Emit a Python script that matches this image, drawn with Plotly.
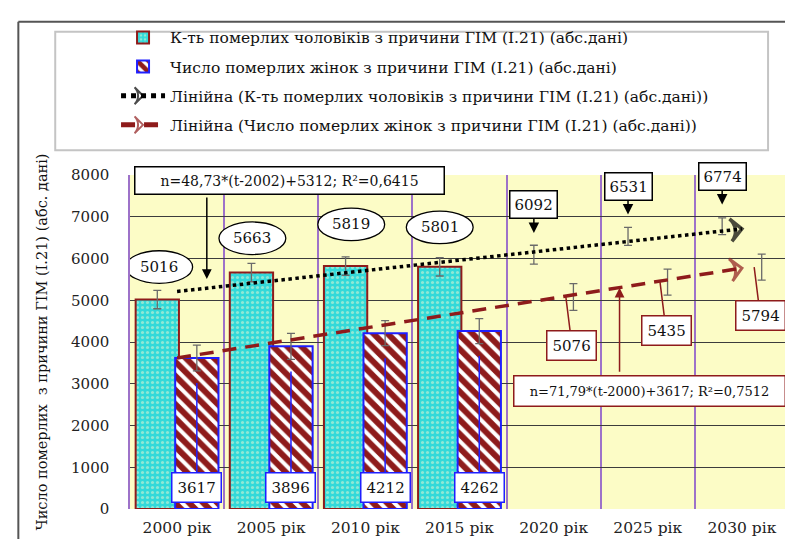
import plotly.graph_objects as go

# ---------------- data ----------------
years = ["2000 рік", "2005 рік", "2010 рік", "2015 рік", "2020 рік", "2025 рік", "2030 рік"]
men_obs = [5016, 5663, 5819, 5801]          # К-ть померлих чоловіків (2000-2015)
women_obs = [3617, 3896, 4212, 4262]        # Число померлих жінок (2000-2015)
men_fc = [6092, 6531, 6774]                 # прогноз чоловіки (2020-2030)
women_fc = [5076, 5435, 5794]               # прогноз жінки (2020-2030)
men_err = [220, 220, 220, 220, 225, 215, 200]
women_err = [310, 310, 300, 300, 320, 310, 310]
men_trend = [5210, 5460, 5710, 5960, 6210, 6460, 6710]
women_trend = [3617, 3975, 4335, 4690, 5050, 5410, 5770]
men_eq = "n=48,73*(t-2002)+5312; R²=0,6415"
women_eq = "n=71,79*(t-2000)+3617; R²=0,7512"

legend_names = [
    "К-ть померлих чоловіків з причини ГІМ (І.21) (абс.дані)",
    "Число померлих жінок з причини ГІМ (І.21) (абс.дані)",
    "Лінійна (К-ть померлих чоловіків з причини ГІМ (І.21) (абс.дані))",
    "Лінійна (Число померлих жінок з причини ГІМ (І.21) (абс.дані))",
]
y_title = "Число померлих  з причини ГІМ (І.21) (абс. дані)"
y_ticks = [0, 1000, 2000, 3000, 4000, 5000, 6000, 7000, 8000]

# ---------------- style ----------------
W, H = 793, 539
ML, MR, MT, MB = 122, 10, 167, 34
FONT = "DejaVu Serif, Liberation Serif, serif"
DARKRED = "#8e1b1b"
BLUE = "#1f1fff"
PURPLE = "#9d72c9"
CYAN = "#33d9d9"
NUM_SIZE = 15

n = len(years)
idx = list(range(n))
idx_obs = idx[:len(men_obs)]
idx_fc = idx[len(men_obs):]
men_all = men_obs + men_fc
women_all = women_obs + women_fc
MEN_SHIFT, WOMEN_SHIFT = -0.21, 0.21

pw = W - ML - MR
ph = H - MT - MB


def px(xp):
    return (xp - ML) / pw


def py(yp):
    return (H - MB - yp) / ph


fig = go.Figure()

fig.add_trace(go.Bar(
    x=idx_obs, y=men_obs, name=legend_names[0], width=0.46, offset=-0.44,
    legendgroup="a",
    marker=dict(color=CYAN, opacity=1, line=dict(color=DARKRED, width=2),
                pattern=dict(shape=".", fgcolor="#eef6d0", bgcolor=CYAN, size=5, solidity=0.3)),
))
fig.add_trace(go.Bar(
    x=idx_obs, y=women_obs, name=legend_names[1], width=0.46, offset=-0.02,
    legendgroup="b",
    marker=dict(color="white", opacity=1, line=dict(color=BLUE, width=2),
                pattern=dict(shape="\\", fgcolor=DARKRED, fgopacity=1, bgcolor="white",
                             size=10, solidity=0.6)),
))

# error bars
fig.add_trace(go.Scatter(
    x=[i + MEN_SHIFT for i in idx], y=men_all, mode="markers", showlegend=False,
    marker=dict(size=1, opacity=0), hoverinfo="skip",
    error_y=dict(type="data", array=men_err, color="#6a6a6a", thickness=1.3, width=4),
))
fig.add_trace(go.Scatter(
    x=[i + WOMEN_SHIFT for i in idx], y=women_all, mode="markers", showlegend=False,
    marker=dict(size=1, opacity=0), hoverinfo="skip",
    error_y=dict(type="data", array=women_err, color="#6a6a6a", thickness=1.3, width=4),
))

# trend lines
fig.add_trace(go.Scatter(
    x=idx, y=men_trend, mode="lines+markers", name=legend_names[2], legendgroup="c",
    line=dict(color="black", width=3.5, dash="dot"),
    marker=dict(symbol="arrow-wide-open", size=[0] * (n - 1) + [16], angleref="previous",
                color="black", line=dict(color="black", width=3.5)),
))
fig.add_trace(go.Scatter(
    x=idx, y=women_trend, mode="lines+markers", name=legend_names[3], legendgroup="d",
    line=dict(color=DARKRED, width=3.5, dash="14px,9px"),
    marker=dict(symbol="arrow-wide-open", size=[0] * (n - 1) + [16], angleref="previous",
                color=DARKRED, line=dict(color=DARKRED, width=3)),
))

shapes = []
annotations = []

# outer frame and legend frame
shapes.append(dict(type="line", xref="paper", yref="paper", x0=px(10), x1=px(10), y0=py(12), y1=py(H),
                   line=dict(color="#555555", width=2), layer="above"))
shapes.append(dict(type="line", xref="paper", yref="paper", x0=px(10), x1=px(W), y0=py(12), y1=py(12),
                   line=dict(color="#555555", width=2), layer="above"))
shapes.append(dict(type="rect", xref="paper", yref="paper", x0=px(47), x1=px(762), y0=py(142), y1=py(22),
                   line=dict(color="#c4c4c4", width=2), fillcolor="white", layer="below"))

# ellipse callouts for men observed values
men_label_dx = [-0.19, -0.2, -0.15, -0.21]
men_label_lift = [780, 822, 998, 945]
for i, v, dx, lift in zip(idx_obs, men_obs, men_label_dx, men_label_lift):
    cx, cy = i + dx, v + lift
    shapes.append(dict(type="circle", xref="x", yref="y", x0=cx - 0.355, x1=cx + 0.355,
                       y0=cy - 390, y1=cy + 390, line=dict(color="black", width=1.3),
                       fillcolor="white", layer="above"))
    annotations.append(dict(x=cx, y=cy, xref="x", yref="y", text=str(v), showarrow=False,
                            font=dict(size=NUM_SIZE, color="#111", family=FONT)))

# forecast men callouts (box with arrow down)
for i, v in zip(idx_fc, men_fc):
    annotations.append(dict(x=i + MEN_SHIFT, y=v + 520, xref="x", yref="y", text=str(v),
                            showarrow=True, ax=0, ay=-28, arrowhead=2, arrowsize=1.4, arrowwidth=1.5,
                            arrowcolor="black", bordercolor="black", borderwidth=1.5, borderpad=4,
                            bgcolor="white", font=dict(size=NUM_SIZE, color="#111", family=FONT)))

# women observed callouts inside bars
for i, v in zip(idx_obs, women_obs):
    annotations.append(dict(x=i + WOMEN_SHIFT, y=v - 600, xref="x", yref="y",
                            ax=i + WOMEN_SHIFT, ay=520, axref="x", ayref="y", text=str(v),
                            showarrow=True, arrowhead=0, arrowwidth=1.5, arrowcolor=BLUE,
                            bordercolor=BLUE, borderwidth=1.5, borderpad=5, bgcolor="white",
                            font=dict(size=NUM_SIZE, color="#111", family=FONT)))

# women forecast callouts
for i, v in zip(idx_fc, women_fc):
    annotations.append(dict(x=i + 0.13, y=v, xref="x", yref="y", ax=6, ay=48, text=str(v),
                            showarrow=True, arrowhead=0, arrowwidth=1.5, arrowcolor=DARKRED,
                            bordercolor=DARKRED, borderwidth=1.5, borderpad=5, bgcolor="white",
                            font=dict(size=NUM_SIZE, color="#111", family=FONT)))

# equation boxes with arrows
annotations.append(dict(x=0.316, y=5511, ax=0.316, ay=7520, xref="x", yref="y", axref="x", ayref="y",
                        text=" ", showarrow=True, arrowhead=2, arrowsize=1.3, arrowwidth=1.5,
                        arrowcolor="black", font=dict(size=2)))
annotations.append(dict(x=1.195, y=7874, xref="x", yref="y", text=men_eq, showarrow=False,
                        width=306, height=24, bordercolor="black", borderwidth=1.5, bgcolor="white",
                        font=dict(size=14, color="#111", family=FONT)))
annotations.append(dict(x=4.70, y=5297, ax=4.70, ay=3230, xref="x", yref="y", axref="x", ayref="y",
                        text=" ", showarrow=True, arrowhead=2, arrowsize=1.3, arrowwidth=1.5,
                        arrowcolor=DARKRED, font=dict(size=2)))
annotations.append(dict(x=5.02, y=2838, xref="x", yref="y", text=women_eq, showarrow=False,
                        width=268, height=27, bordercolor=DARKRED, borderwidth=1.5, bgcolor="white",
                        font=dict(size=13, color="#111", family=FONT)))

fig.update_layout(
    width=W, height=H,
    margin=dict(l=ML, r=MR, t=MT, b=MB, pad=0),
    paper_bgcolor="white",
    plot_bgcolor="#fcfcc6",
    barmode="overlay",
    font=dict(family=FONT, size=15, color="#111"),
    showlegend=True,
    legend=dict(x=px(108), y=py(11), xanchor="left", yanchor="top", bgcolor="rgba(0,0,0,0)",
                borderwidth=0, font=dict(size=15.5, family=FONT, color="#111"),
                traceorder="grouped", tracegroupgap=6, itemwidth=44, itemsizing="constant"),
    shapes=shapes,
    annotations=annotations,
    xaxis=dict(range=[-0.5, n - 0.5], tickmode="array", tickvals=idx, ticktext=years,
               showgrid=False, zeroline=False, showline=False, ticks="",
               ticklabelstandoff=7, tickfont=dict(size=15.5, family=FONT, color="#222"),
               minor=dict(tickmode="array", tickvals=[i - 0.5 for i in idx] + [n - 0.5],
                          showgrid=True, gridcolor=PURPLE, gridwidth=1.5, ticks="")),
    yaxis=dict(range=[0, 8000], tickmode="array", tickvals=y_ticks, showgrid=True,
               gridcolor="#3c3c3c", gridwidth=1.4, zeroline=False, showline=True, mirror=True,
               linecolor=PURPLE, linewidth=1.5, ticks="", ticklabelstandoff=16,
               tickfont=dict(size=15, family=FONT, color="#222"),
               title=dict(text=y_title, standoff=20, font=dict(size=14.5, family=FONT, color="#111"))),
)

fig.write_html("out.html")
